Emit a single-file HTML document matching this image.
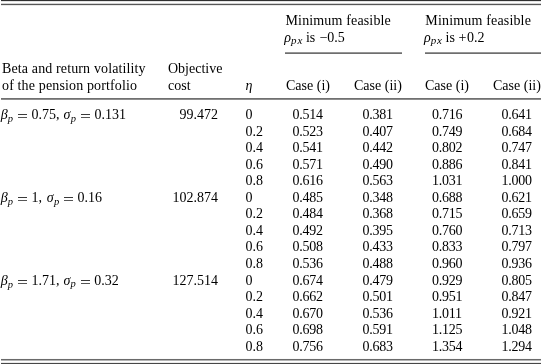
<!DOCTYPE html>
<html><head><meta charset="utf-8">
<style>
html,body{margin:0;padding:0;background:#fff;width:541px;height:364px;overflow:hidden;position:relative}
#w{position:absolute;left:0;top:0;width:541px;height:364px;will-change:transform}
.t{position:absolute;white-space:nowrap;font-family:"Liberation Serif",serif;font-size:14px;line-height:16px;color:#000}
.t i{font-style:italic}
.rule{position:absolute}
</style></head><body><div id="w">
<div class="rule" style="left:1px;width:540px;top:0px;height:1px;background:#303030"></div>
<div class="rule" style="left:1px;width:540px;top:1px;height:1px;background:#e4e4e4"></div>
<div class="rule" style="left:1px;width:540px;top:3px;height:1px;background:#d4d4d4"></div>
<div class="rule" style="left:1px;width:540px;top:4px;height:1px;background:#575757"></div>
<div class="rule" style="left:1px;width:540px;top:5px;height:1px;background:#e8e8e8"></div>
<div class="rule" style="left:285px;width:117px;top:52px;height:1px;background:#959595"></div>
<div class="rule" style="left:285px;width:117px;top:53px;height:1px;background:#6e6e6e"></div>
<div class="rule" style="left:425px;width:116px;top:52px;height:1px;background:#959595"></div>
<div class="rule" style="left:425px;width:116px;top:53px;height:1px;background:#6e6e6e"></div>
<div class="rule" style="left:1px;width:540px;top:98px;height:1px;background:#707070"></div>
<div class="rule" style="left:1px;width:540px;top:99px;height:1px;background:#8e8e8e"></div>
<div class="rule" style="left:1px;width:540px;top:358px;height:1px;background:#fafafa"></div>
<div class="rule" style="left:1px;width:540px;top:359px;height:1px;background:#6a6a6a"></div>
<div class="rule" style="left:1px;width:540px;top:360px;height:1px;background:#b4b4b4"></div>
<div class="rule" style="left:1px;width:540px;top:362px;height:1px;background:#ececec"></div>
<div class="rule" style="left:1px;width:540px;top:363px;height:1px;background:#474747"></div>
<div class="t" style="left:285.5px;top:13.00px;letter-spacing:0.15px">Minimum feasible</div>
<div class="t" style="left:425.3px;top:13.00px;letter-spacing:0.17px">Minimum feasible</div>
<div class="t" style="left:284.3px;top:29.60px;"><i>ρ</i></div>
<div class="t sb" style="left:291.1px;top:31.60px;font-size:11px;letter-spacing:0.9px"><i>px</i></div>
<div class="t" style="left:305.90000000000003px;top:29.60px;">is</div>
<div class="t" style="left:319.8px;top:29.60px;">−</div>
<div class="t" style="left:327.3px;top:29.60px;">0.5</div>
<div class="t" style="left:423.9px;top:29.60px;"><i>ρ</i></div>
<div class="t sb" style="left:430.7px;top:31.60px;font-size:11px;letter-spacing:0.9px"><i>px</i></div>
<div class="t" style="left:445.5px;top:29.60px;">is</div>
<div class="t" style="left:458.4px;top:29.60px;">+</div>
<div class="t" style="left:466.9px;top:29.60px;">0.2</div>
<div class="t" style="left:2px;top:61.00px;letter-spacing:0.13px">Beta and return volatility</div>
<div class="t" style="left:2px;top:77.56px;letter-spacing:0.14px">of the pension portfolio</div>
<div class="t" style="left:168px;top:61.00px;">Objective</div>
<div class="t" style="left:168px;top:77.56px;">cost</div>
<div class="t" style="left:245.5px;top:78.00px;"><i>η</i></div>
<div class="t" style="left:286px;top:77.56px;">Case (i)</div>
<div class="t" style="left:354px;top:77.56px;">Case (ii)</div>
<div class="t" style="left:425px;top:77.56px;">Case (i)</div>
<div class="t" style="left:493px;top:77.56px;">Case (ii)</div>
<div class="t" style="left:0.8px;top:107.00px;"><i>β</i></div>
<div class="t sb" style="left:7.8px;top:111.20px;font-size:10.5px;letter-spacing:0px"><i>p</i></div>
<div class="rule" style="left:18px;width:9px;top:114px;height:1px;background:#3a3a3a"></div>
<div class="rule" style="left:18px;width:9px;top:117px;height:1px;background:#555"></div>
<div class="t" style="left:31.5px;top:107.00px;">0.75,</div>
<div class="t" style="left:63.6px;top:107.00px;"><i>σ</i></div>
<div class="t sb" style="left:70.8px;top:110.80px;font-size:10.5px;letter-spacing:0px"><i>p</i></div>
<div class="rule" style="left:80.8px;width:9.0px;top:114px;height:1px;background:#3a3a3a"></div>
<div class="rule" style="left:80.8px;width:9.0px;top:117px;height:1px;background:#555"></div>
<div class="t" style="left:94.4px;top:107.00px;">0.131</div>
<div class="t r" style="right:323px;top:107.00px;">99.472</div>
<div class="t" style="left:245.5px;top:107.00px;">0</div>
<div class="t" style="left:292.5px;top:107.00px;letter-spacing:-0.25px">0.514</div>
<div class="t" style="left:362.5px;top:107.00px;letter-spacing:-0.25px">0.381</div>
<div class="t" style="left:432px;top:107.00px;letter-spacing:-0.25px">0.716</div>
<div class="t" style="left:501.5px;top:107.00px;letter-spacing:-0.25px">0.641</div>
<div class="t" style="left:245.5px;top:123.56px;">0.2</div>
<div class="t" style="left:292.5px;top:123.56px;letter-spacing:-0.25px">0.523</div>
<div class="t" style="left:362.5px;top:123.56px;letter-spacing:-0.25px">0.407</div>
<div class="t" style="left:432px;top:123.56px;letter-spacing:-0.25px">0.749</div>
<div class="t" style="left:501.5px;top:123.56px;letter-spacing:-0.25px">0.684</div>
<div class="t" style="left:245.5px;top:140.11px;">0.4</div>
<div class="t" style="left:292.5px;top:140.11px;letter-spacing:-0.25px">0.541</div>
<div class="t" style="left:362.5px;top:140.11px;letter-spacing:-0.25px">0.442</div>
<div class="t" style="left:432px;top:140.11px;letter-spacing:-0.25px">0.802</div>
<div class="t" style="left:501.5px;top:140.11px;letter-spacing:-0.25px">0.747</div>
<div class="t" style="left:245.5px;top:156.67px;">0.6</div>
<div class="t" style="left:292.5px;top:156.67px;letter-spacing:-0.25px">0.571</div>
<div class="t" style="left:362.5px;top:156.67px;letter-spacing:-0.25px">0.490</div>
<div class="t" style="left:432px;top:156.67px;letter-spacing:-0.25px">0.886</div>
<div class="t" style="left:501.5px;top:156.67px;letter-spacing:-0.25px">0.841</div>
<div class="t" style="left:245.5px;top:173.23px;">0.8</div>
<div class="t" style="left:292.5px;top:173.23px;letter-spacing:-0.25px">0.616</div>
<div class="t" style="left:362.5px;top:173.23px;letter-spacing:-0.25px">0.563</div>
<div class="t" style="left:432px;top:173.23px;letter-spacing:-0.25px">1.031</div>
<div class="t" style="left:501.5px;top:173.23px;letter-spacing:-0.25px">1.000</div>
<div class="t" style="left:0.8px;top:189.78px;"><i>β</i></div>
<div class="t sb" style="left:7.8px;top:193.98px;font-size:10.5px;letter-spacing:0px"><i>p</i></div>
<div class="rule" style="left:18px;width:9px;top:197px;height:1px;background:#3a3a3a"></div>
<div class="rule" style="left:18px;width:9px;top:200px;height:1px;background:#555"></div>
<div class="t" style="left:31.5px;top:189.78px;">1,</div>
<div class="t" style="left:46.8px;top:189.78px;"><i>σ</i></div>
<div class="t sb" style="left:54.0px;top:193.59px;font-size:10.5px;letter-spacing:0px"><i>p</i></div>
<div class="rule" style="left:64.0px;width:9.0px;top:197px;height:1px;background:#3a3a3a"></div>
<div class="rule" style="left:64.0px;width:9.0px;top:200px;height:1px;background:#555"></div>
<div class="t" style="left:77.6px;top:189.78px;">0.16</div>
<div class="t r" style="right:323px;top:189.78px;">102.874</div>
<div class="t" style="left:245.5px;top:189.78px;">0</div>
<div class="t" style="left:292.5px;top:189.78px;letter-spacing:-0.25px">0.485</div>
<div class="t" style="left:362.5px;top:189.78px;letter-spacing:-0.25px">0.348</div>
<div class="t" style="left:432px;top:189.78px;letter-spacing:-0.25px">0.688</div>
<div class="t" style="left:501.5px;top:189.78px;letter-spacing:-0.25px">0.621</div>
<div class="t" style="left:245.5px;top:206.34px;">0.2</div>
<div class="t" style="left:292.5px;top:206.34px;letter-spacing:-0.25px">0.484</div>
<div class="t" style="left:362.5px;top:206.34px;letter-spacing:-0.25px">0.368</div>
<div class="t" style="left:432px;top:206.34px;letter-spacing:-0.25px">0.715</div>
<div class="t" style="left:501.5px;top:206.34px;letter-spacing:-0.25px">0.659</div>
<div class="t" style="left:245.5px;top:222.90px;">0.4</div>
<div class="t" style="left:292.5px;top:222.90px;letter-spacing:-0.25px">0.492</div>
<div class="t" style="left:362.5px;top:222.90px;letter-spacing:-0.25px">0.395</div>
<div class="t" style="left:432px;top:222.90px;letter-spacing:-0.25px">0.760</div>
<div class="t" style="left:501.5px;top:222.90px;letter-spacing:-0.25px">0.713</div>
<div class="t" style="left:245.5px;top:239.46px;">0.6</div>
<div class="t" style="left:292.5px;top:239.46px;letter-spacing:-0.25px">0.508</div>
<div class="t" style="left:362.5px;top:239.46px;letter-spacing:-0.25px">0.433</div>
<div class="t" style="left:432px;top:239.46px;letter-spacing:-0.25px">0.833</div>
<div class="t" style="left:501.5px;top:239.46px;letter-spacing:-0.25px">0.797</div>
<div class="t" style="left:245.5px;top:256.01px;">0.8</div>
<div class="t" style="left:292.5px;top:256.01px;letter-spacing:-0.25px">0.536</div>
<div class="t" style="left:362.5px;top:256.01px;letter-spacing:-0.25px">0.488</div>
<div class="t" style="left:432px;top:256.01px;letter-spacing:-0.25px">0.960</div>
<div class="t" style="left:501.5px;top:256.01px;letter-spacing:-0.25px">0.936</div>
<div class="t" style="left:0.8px;top:272.57px;"><i>β</i></div>
<div class="t sb" style="left:7.8px;top:276.77px;font-size:10.5px;letter-spacing:0px"><i>p</i></div>
<div class="rule" style="left:18px;width:9px;top:280px;height:1px;background:#3a3a3a"></div>
<div class="rule" style="left:18px;width:9px;top:283px;height:1px;background:#555"></div>
<div class="t" style="left:31.5px;top:272.57px;">1.71,</div>
<div class="t" style="left:63.4px;top:272.57px;"><i>σ</i></div>
<div class="t sb" style="left:70.6px;top:276.37px;font-size:10.5px;letter-spacing:0px"><i>p</i></div>
<div class="rule" style="left:80.6px;width:9.0px;top:280px;height:1px;background:#3a3a3a"></div>
<div class="rule" style="left:80.6px;width:9.0px;top:283px;height:1px;background:#555"></div>
<div class="t" style="left:94.2px;top:272.57px;">0.32</div>
<div class="t r" style="right:323px;top:272.57px;">127.514</div>
<div class="t" style="left:245.5px;top:272.57px;">0</div>
<div class="t" style="left:292.5px;top:272.57px;letter-spacing:-0.25px">0.674</div>
<div class="t" style="left:362.5px;top:272.57px;letter-spacing:-0.25px">0.479</div>
<div class="t" style="left:432px;top:272.57px;letter-spacing:-0.25px">0.929</div>
<div class="t" style="left:501.5px;top:272.57px;letter-spacing:-0.25px">0.805</div>
<div class="t" style="left:245.5px;top:289.13px;">0.2</div>
<div class="t" style="left:292.5px;top:289.13px;letter-spacing:-0.25px">0.662</div>
<div class="t" style="left:362.5px;top:289.13px;letter-spacing:-0.25px">0.501</div>
<div class="t" style="left:432px;top:289.13px;letter-spacing:-0.25px">0.951</div>
<div class="t" style="left:501.5px;top:289.13px;letter-spacing:-0.25px">0.847</div>
<div class="t" style="left:245.5px;top:305.68px;">0.4</div>
<div class="t" style="left:292.5px;top:305.68px;letter-spacing:-0.25px">0.670</div>
<div class="t" style="left:362.5px;top:305.68px;letter-spacing:-0.25px">0.536</div>
<div class="t" style="left:432px;top:305.68px;letter-spacing:-0.25px">1.011</div>
<div class="t" style="left:501.5px;top:305.68px;letter-spacing:-0.25px">0.921</div>
<div class="t" style="left:245.5px;top:322.24px;">0.6</div>
<div class="t" style="left:292.5px;top:322.24px;letter-spacing:-0.25px">0.698</div>
<div class="t" style="left:362.5px;top:322.24px;letter-spacing:-0.25px">0.591</div>
<div class="t" style="left:432px;top:322.24px;letter-spacing:-0.25px">1.125</div>
<div class="t" style="left:501.5px;top:322.24px;letter-spacing:-0.25px">1.048</div>
<div class="t" style="left:245.5px;top:338.80px;">0.8</div>
<div class="t" style="left:292.5px;top:338.80px;letter-spacing:-0.25px">0.756</div>
<div class="t" style="left:362.5px;top:338.80px;letter-spacing:-0.25px">0.683</div>
<div class="t" style="left:432px;top:338.80px;letter-spacing:-0.25px">1.354</div>
<div class="t" style="left:501.5px;top:338.80px;letter-spacing:-0.25px">1.294</div>
</div></body></html>
